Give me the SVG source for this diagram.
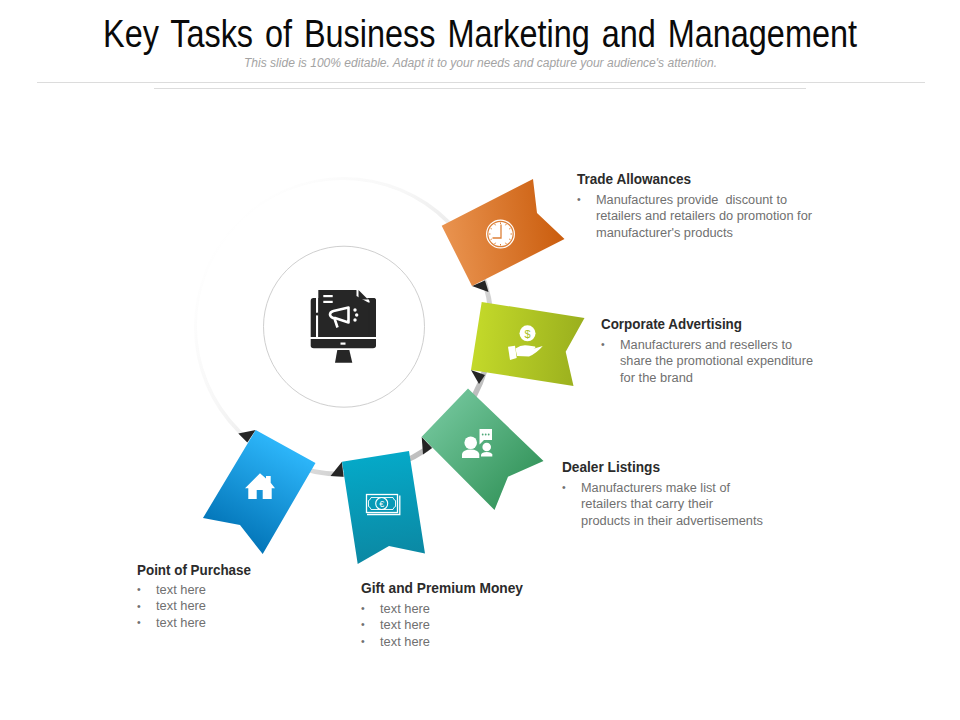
<svg xmlns="http://www.w3.org/2000/svg" width="960" height="720" viewBox="0 0 960 720">
<style>
text{font-family:"Liberation Sans",Arial,sans-serif}
.title{font-size:34px;fill:#0a0a0a;word-spacing:3px}
.sub{font-size:12px;font-style:italic;fill:#a3a3a3}
.h{font-size:14px;font-weight:bold;fill:#2b2b2b}
.b{font-size:12px;fill:#707070}
.d{font-size:10.500px;fill:#707070}
.rule{stroke:#dcdcdc;stroke-width:1;fill:none}
.tri{fill:#252525}
.w{fill:#fff}
.ws{fill:none;stroke:#fff}
</style>
<defs>
<linearGradient id="ringG" gradientUnits="userSpaceOnUse" x1="230" y1="220" x2="470" y2="430"><stop offset="0" stop-color="#ffffff"/><stop offset="0.35" stop-color="#f7f7f7"/><stop offset="0.6" stop-color="#e8e8e8"/><stop offset="1" stop-color="#b6b6b6"/></linearGradient>
<linearGradient id="gO" gradientUnits="userSpaceOnUse" x1="445" y1="240" x2="560" y2="225"><stop offset="0" stop-color="#e9934f"/><stop offset="1" stop-color="#cb5e0f"/></linearGradient>
<linearGradient id="gG" gradientUnits="userSpaceOnUse" x1="472" y1="340" x2="580" y2="350"><stop offset="0" stop-color="#c4da2a"/><stop offset="1" stop-color="#9bb01e"/></linearGradient>
<linearGradient id="gT" gradientUnits="userSpaceOnUse" x1="440" y1="410" x2="525" y2="490"><stop offset="0" stop-color="#6fc398"/><stop offset="1" stop-color="#35955c"/></linearGradient>
<linearGradient id="gC" gradientUnits="userSpaceOnUse" x1="375" y1="455" x2="390" y2="560"><stop offset="0" stop-color="#05a9c8"/><stop offset="1" stop-color="#0b88a3"/></linearGradient>
<linearGradient id="gB" gradientUnits="userSpaceOnUse" x1="285" y1="445" x2="235" y2="535"><stop offset="0" stop-color="#2db6fa"/><stop offset="1" stop-color="#0477ba"/></linearGradient>
</defs>
<rect width="960" height="720" fill="#fff"/>
<g id="header">
<text class="title" transform="translate(103 47) scale(1 1.130)" x="0" y="0" textLength="754" lengthAdjust="spacingAndGlyphs">Key Tasks of Business Marketing and Management</text>
<text class="sub" x="244" y="66.500" textLength="473" lengthAdjust="spacingAndGlyphs">This slide is 100% editable. Adapt it to your needs and capture your audience's attention.</text>
<line class="rule" x1="37" y1="82.500" x2="925" y2="82.500"/>
<line class="rule" x1="154" y1="88.500" x2="806" y2="88.500"/>
</g>
<g id="connectors">
<circle cx="344" cy="327" r="150" fill="url(#ringG)"/>
<circle cx="343" cy="326" r="146" fill="#fff"/>
<polygon class="tri" points="472,286 485,280.500 488.500,292"/>
<polygon class="tri" points="471,370 485,375 479,384"/>
<polygon class="tri" points="421.700,436.700 432,448 423,454.500"/>
<polygon class="tri" points="342,461.700 343.500,476.700 330.500,476"/>
<polygon class="tri" points="255.700,430 238.300,433.500 247.300,442.500"/>
</g>
<g id="center">
<circle cx="344" cy="326.700" r="80.500" fill="#fff" stroke="#cfcfcf" stroke-width="1"/>
<path fill="#262626" d="M313.500 298H373.500Q376 298 376 301V337H310.700V301Q310.700 298 313.500 298Z"/>
<rect x="316" y="296" width="2.300" height="42" fill="#fff"/>
<circle cx="317.100" cy="314" r="1.600" fill="#262626"/>
<path fill="#262626" d="M318.300 290H356.500L368.300 302V337H318.300Z"/>
<path fill="#fff" d="M356.500 289H370V302.500H368.300L356.500 296Z"/>
<path fill="#262626" d="M358.500 290L368 299.500H362Q358.500 299.500 358.500 296Z"/>
<path fill="#262626" d="M366 298H373.500Q376 298 376 301V337H369.800V303Q369.800 299 366 298Z"/>
<path fill="#262626" d="M310.700 339H376V345.500Q376 348.300 373 348.300H313.700Q310.700 348.300 310.700 345.500Z"/>
<rect x="340.500" y="342.500" width="5" height="2.200" fill="#fff"/>
<polygon fill="#262626" points="337.300,350 349.300,350 352.300,362.700 335,362.700"/>
<rect x="323.300" y="295" width="9.400" height="2.200" fill="#fff"/>
<rect x="323.300" y="300.800" width="9.400" height="2.200" fill="#fff"/>
<path class="ws" stroke-width="2.600" stroke-linejoin="round" d="M348.500 307.500V322.500L335 318H333Q330 316.500 330 314.500Q330 312 333.500 311Z"/>
<path class="ws" stroke-width="2.600" d="M334.500 318.500L337.500 327.500"/>
<circle class="w" cx="355" cy="310" r="1.700"/>
<circle class="w" cx="356.700" cy="315" r="1.700"/>
<circle class="w" cx="355" cy="320" r="1.700"/>
</g>
<g id="node-trade">
<polygon fill="url(#gO)" points="441.700,225.700 533,179 537,213 564.500,239 472,286"/>
<circle class="w" cx="500.500" cy="234" r="14.500"/>
<circle cx="500.500" cy="234" r="12.700" fill="none" stroke="#dd8038" stroke-width="1.200"/>
<path fill="none" stroke="#dd8038" stroke-width="1.300" d="M501 224.500V238H492.500"/>
<path fill="none" stroke="#dd8038" stroke-width="1" d="M500.500 222.500v1.500M500.500 244v1.500M489 234h1.500M510.500 234h1.500M494.700 224l.8 1.300M505.500 242.700l.8 1.300M494.700 244l.8-1.300M505.500 225.300l.8-1.300M490.500 228.200l1.300.8M509.200 239l1.300.8M490.500 239.800l1.300-.8M509.200 229l1.300-.8"/>
<text class="h" x="577" y="184" textLength="114" lengthAdjust="spacingAndGlyphs">Trade Allowances</text>
<text class="d" x="577" y="202.500">•</text>
<text class="b" x="596" y="203.500" textLength="191" lengthAdjust="spacingAndGlyphs" xml:space="preserve">Manufactures provide  discount to</text>
<text class="b" x="596" y="220" textLength="216" lengthAdjust="spacingAndGlyphs">retailers and retailers do promotion for</text>
<text class="b" x="596" y="237" textLength="137" lengthAdjust="spacingAndGlyphs">manufacturer's products</text>
</g>
<g id="node-corporate">
<polygon fill="url(#gG)" points="481.700,302 584.500,318 565.700,351.700 573.500,386 471,370"/>
<circle class="w" cx="527.500" cy="333.300" r="8"/>
<text x="527.500" y="337.500" font-size="11" text-anchor="middle" fill="#a9c022">$</text>
<polygon class="w" points="508,346.700 515,345.700 516.700,358 510,360"/>
<path class="w" d="M515.500 348.500Q522 344 528 345.500L535 346.500Q537 348 531 349.500L542.700 346Q537 353 529 356.500L517 356Z"/>
<text class="h" x="601" y="329" textLength="141" lengthAdjust="spacingAndGlyphs">Corporate Advertising</text>
<text class="d" x="601" y="347.500">•</text>
<text class="b" x="620" y="348.500" textLength="172" lengthAdjust="spacingAndGlyphs">Manufacturers and resellers to</text>
<text class="b" x="620" y="365" textLength="193" lengthAdjust="spacingAndGlyphs">share the promotional expenditure</text>
<text class="b" x="620" y="382" textLength="73" lengthAdjust="spacingAndGlyphs">for the brand</text>
</g>
<g id="node-dealer">
<polygon fill="url(#gT)" points="468,388.500 543.500,461 508,476.700 494.500,510 421.700,436.700"/>
<circle class="w" cx="470.700" cy="442.700" r="6.300"/>
<path class="w" d="M462 458V454Q463 449.500 470.700 449.500Q478 449.500 479.300 454V458Z"/>
<circle class="w" cx="486.700" cy="447" r="4.300"/>
<path class="w" d="M481 456.500V454.500Q482 452 486.700 452Q491.500 452 492.300 454.500V456.500Z"/>
<path class="w" d="M479.500 429H492V440H484L479.500 444.500Z"/>
<g fill="#4fa878"><circle cx="482.700" cy="434.500" r=".9"/><circle cx="485.700" cy="434.500" r=".9"/><circle cx="488.700" cy="434.500" r=".9"/></g>
<text class="h" x="562" y="472" textLength="98" lengthAdjust="spacingAndGlyphs">Dealer Listings</text>
<text class="d" x="562" y="490.500">•</text>
<text class="b" x="581" y="491.500" textLength="149" lengthAdjust="spacingAndGlyphs">Manufacturers make list of</text>
<text class="b" x="581" y="508" textLength="132" lengthAdjust="spacingAndGlyphs">retailers that carry their</text>
<text class="b" x="581" y="525" textLength="182" lengthAdjust="spacingAndGlyphs">products in their advertisements</text>
</g>
<g id="node-gift">
<polygon fill="url(#gC)" points="342,461.700 409,451 425,553.500 389,546 357.700,564"/>
<rect class="ws" x="366.500" y="494.500" width="31" height="18" stroke-width="1.300"/>
<path class="ws" stroke-width="1.300" d="M367 514.500H399.800V495.500"/>
<path class="ws" stroke-width=".9" d="M371 497.500H393Q393.500 500 395.500 500.500V506.500Q393.500 507 393 509.500H371Q370.500 507 368.500 506.500V500.500Q370.500 500 371 497.500Z"/>
<circle class="ws" cx="381.700" cy="503.500" r="6" stroke-width="1.100"/>
<text x="381.700" y="506.800" font-size="9" text-anchor="middle" fill="#fff">€</text>
<text class="h" x="361" y="593" textLength="162" lengthAdjust="spacingAndGlyphs">Gift and Premium Money</text>
<text class="d" x="361" y="611.500">•</text><text class="b" x="380" y="612.500" textLength="50" lengthAdjust="spacingAndGlyphs">text here</text>
<text class="d" x="361" y="628">•</text><text class="b" x="380" y="629" textLength="50" lengthAdjust="spacingAndGlyphs">text here</text>
<text class="d" x="361" y="645">•</text><text class="b" x="380" y="646" textLength="50" lengthAdjust="spacingAndGlyphs">text here</text>
</g>
<g id="node-purchase">
<polygon fill="url(#gB)" points="255.700,430 315.500,463 262.700,554 240,525 203,518"/>
<path class="w" d="M260 473.300L266 478.600V476H270.700V482.800L275 488.300H271.700V499H262.700V490H256.700V499H248.300V488.300H245Z"/>
<text class="h" x="137" y="575" textLength="114" lengthAdjust="spacingAndGlyphs">Point of Purchase</text>
<text class="d" x="137" y="593">•</text><text class="b" x="156" y="594" textLength="50" lengthAdjust="spacingAndGlyphs">text here</text>
<text class="d" x="137" y="609.500">•</text><text class="b" x="156" y="610" textLength="50" lengthAdjust="spacingAndGlyphs">text here</text>
<text class="d" x="137" y="626">•</text><text class="b" x="156" y="627" textLength="50" lengthAdjust="spacingAndGlyphs">text here</text>
</g>
</svg>
